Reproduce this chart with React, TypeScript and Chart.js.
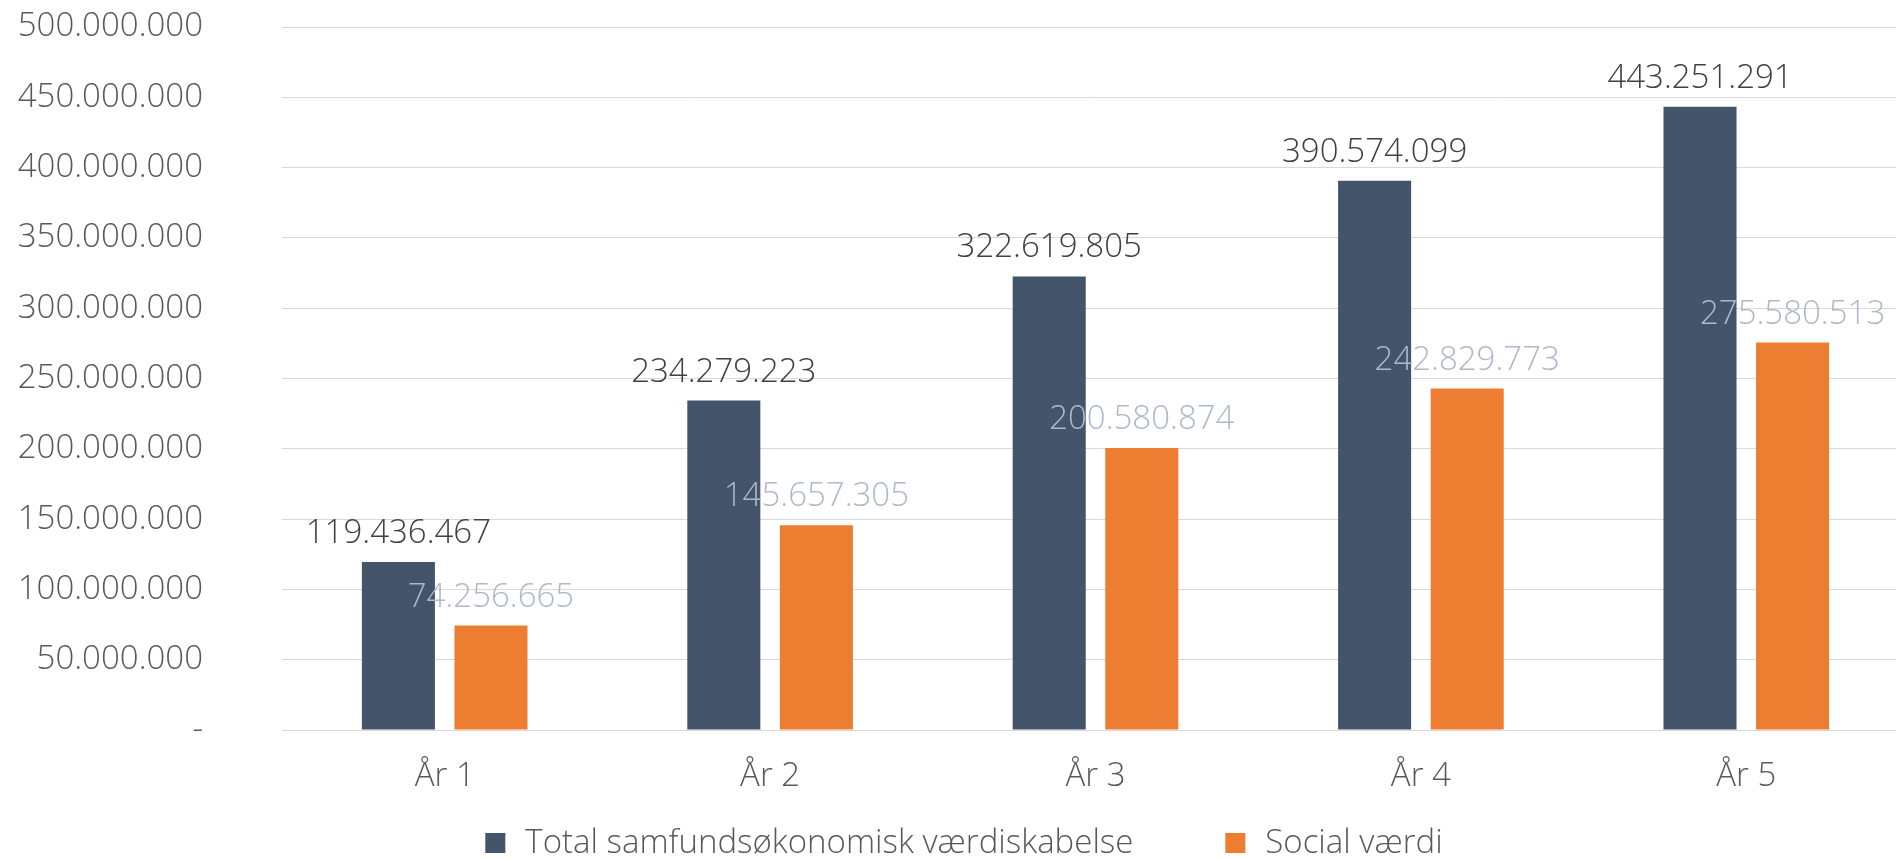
import React, { useEffect, useRef } from 'react';
import { Chart, registerables } from 'chart.js';

Chart.register(...registerables);

const categories = ['År 1', 'År 2', 'År 3', 'År 4', 'År 5'];
const seriesNames = ['Total samfundsøkonomisk værdiskabelse', 'Social værdi'];
const totalValues = [119436467, 234279223, 322619805, 390574099, 443251291];
const socialValues = [74256665, 145657305, 200580874, 242829773, 275580513];
const yMax = 500000000;
const yStep = 50000000;

const seriesColors = ['#44546A', '#ED7D31'];
const labelColors = ['#404040', '#ADB9CA'];
const FONT_FAMILY = '"Open Sans", sans-serif';
const FONT_SIZE = 33;
const FONT_WEIGHT = 300;
const CANVAS_W = 1909;
const CANVAS_H = 859;

const fmt = (n: number) => String(Math.round(n)).replace(/\B(?=(\d{3})+(?!\d))/g, '.');

const dataLabelPlugin = {
  id: 'dataLabels',
  afterDatasetsDraw(chart: any) {
    const ctx = chart.ctx;
    ctx.save();
    ctx.font = `${FONT_WEIGHT} ${FONT_SIZE}px ${FONT_FAMILY}`;
    ctx.textAlign = 'center';
    ctx.textBaseline = 'alphabetic';
    chart.data.datasets.forEach((ds: any, i: number) => {
      const meta = chart.getDatasetMeta(i);
      ctx.fillStyle = labelColors[i];
      meta.data.forEach((el: any, j: number) => {
        ctx.fillText(fmt(ds.data[j]), el.x, el.y - 19);
      });
    });
    ctx.restore();
  },
};

const legendPlugin = {
  id: 'customLegend',
  afterDraw(chart: any) {
    const ctx = chart.ctx;
    ctx.save();
    ctx.font = `${FONT_WEIGHT} ${FONT_SIZE}px ${FONT_FAMILY}`;
    ctx.textBaseline = 'middle';
    ctx.textAlign = 'left';
    const box = 20;
    const gapText = 20;
    const gapItems = 92;
    const items = chart.data.datasets.map((ds: any) => ({
      text: ds.label,
      color: ds.backgroundColor,
      w: box + gapText + ctx.measureText(ds.label).width,
    }));
    const total = items.reduce((s: number, it: any) => s + it.w, 0) + gapItems * (items.length - 1);
    let x = 964 - total / 2;
    const cy = 843;
    items.forEach((it: any) => {
      ctx.fillStyle = it.color;
      ctx.fillRect(x, cy - box / 2, box, box);
      ctx.fillStyle = '#595959';
      ctx.fillText(it.text, x + box + gapText, cy + 1);
      x += it.w + gapItems;
    });
    ctx.restore();
  },
};

export default function App() {
  const ref = useRef<HTMLCanvasElement>(null);
  useEffect(() => {
    if (!ref.current) return;
    const chart = new Chart(ref.current, {
      type: 'bar',
      data: {
        labels: categories,
        datasets: [
          { label: seriesNames[0], data: totalValues, backgroundColor: seriesColors[0], categoryPercentage: 0.569, barPercentage: 0.789 },
          { label: seriesNames[1], data: socialValues, backgroundColor: seriesColors[1], categoryPercentage: 0.569, barPercentage: 0.789 },
        ],
      },
      options: {
        responsive: false,
        animation: false,
        layout: { padding: { top: 27, right: 0, left: 0, bottom: 62 } },
        plugins: { legend: { display: false }, tooltip: { enabled: false } },
        scales: {
          x: {
            afterFit: (scale: any) => {
              scale.height = 67;
              scale.paddingLeft = 0;
              scale.paddingRight = 0;
            },
            grid: { display: false, drawTicks: false },
            border: { display: true, color: '#D9D9D9', width: 1 },
            ticks: { color: '#595959', padding: 27, font: { family: FONT_FAMILY, size: FONT_SIZE, weight: FONT_WEIGHT as any } },
          },
          y: {
            min: 0,
            max: yMax,
            afterFit: (scale: any) => {
              scale.width = 282;
              scale.paddingTop = 20;
              scale.paddingBottom = 20;
            },
            grid: { color: '#D9D9D9', lineWidth: 1, drawTicks: false },
            border: { display: false },
            ticks: {
              stepSize: yStep,
              padding: 79,
              color: '#595959',
              font: { family: FONT_FAMILY, size: FONT_SIZE, weight: FONT_WEIGHT as any },
              callback: (v: any) => (Number(v) === 0 ? '-' : fmt(Number(v))),
            },
          },
        },
      },
      plugins: [dataLabelPlugin, legendPlugin],
    });
    return () => chart.destroy();
  }, []);
  return (
    <div style={{ position: 'fixed', left: 0, top: 0, width: 1896, height: 859, overflow: 'hidden', background: '#fff' }}>
      <canvas ref={ref} width={CANVAS_W} height={CANVAS_H} style={{ display: 'block' }} />
    </div>
  );
}
